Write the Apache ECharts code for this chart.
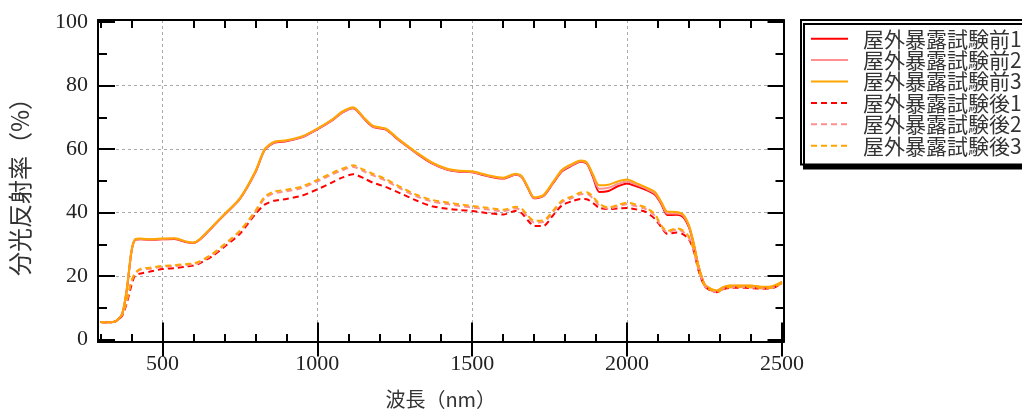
<!DOCTYPE html>
<html><head><meta charset="utf-8">
<script src="https://cdn.jsdelivr.net/npm/echarts@6/dist/echarts.min.js"></script>
<style>html,body{margin:0;padding:0;background:#fff;overflow:hidden}#c{width:1062px;height:414px}</style>
</head><body><div id="c"></div>
<script>
const wavelength = [300,325,350,370,385,400,412,430,460,500,540,580,600,620,660,700,750,800,830,860,900,950,1000,1050,1080,1116,1150,1180,1220,1270,1320,1370,1420,1460,1500,1550,1600,1640,1660,1680,1700,1730,1760,1790,1820,1850,1870,1890,1910,1940,1970,2000,2030,2060,2090,2110,2130,2160,2180,2200,2215,2230,2250,2270,2290,2310,2330,2360,2400,2440,2470,2500];
const before1 = [5.5,5.4,5.8,8,15.6, 27.6,31.4,31.6,31.4,31.6, 31.7,30.6,30.4,31.4,35.3, 39.3,44.3,52.7,59.7,62.0, 62.5,63.7,66.2,69.2,71.5, 72.9,69.7,67.0,66.2,62.3, 58.7,55.5,53.5,52.9,52.7, 51.5,50.7,51.9,51.2,47.7, 44.5,45.2,49.1,53.0,54.7, 56.0,55.4,51.2,46.5,46.8, 48.3,49.2,48.3,47.2,45.6, 42.8,39.2,39.3,38.7,35.3, 30.0,23.2,17.3,15.8,15.2, 16.3,16.8,16.8,16.8,16.4, 16.6,18.0];
const before2 = [5.5,5.4,5.8,8,15.8, 27.8,31.5,31.7,31.5,31.7, 31.8,30.7,30.5,31.5,35.4, 39.4,44.4,52.8,59.8,62.1, 62.6,63.8,66.3,69.3,71.6, 73.0,69.8,67.1,66.3,62.4, 58.8,55.6,53.6,53.0,52.8, 51.6,50.8,52.0,51.3,47.8, 44.6,45.3,49.3,53.2,54.9, 56.2,55.6,51.6,47.5,47.8, 49.0,49.8,48.8,47.6,46.0, 43.1,39.7,39.7,39.1,35.6, 30.2,23.3,17.4,15.9,15.3, 16.4,16.9,16.9,16.9,16.5, 16.7,18.1];
const before3 = [5.5,5.4,5.8,8,16, 28,31.6,31.8,31.6,31.8, 31.9,30.8,30.6,31.6,35.5, 39.5,44.5,53,60,62.3, 62.8,64,66.5,69.5,71.8, 73.2,70,67.3,66.5,62.6, 59,55.8,53.8,53.2,53, 51.8,51,52.2,51.5,48, 44.8,45.5,49.5,53.5,55.2, 56.4,55.8,52,48.6,48.8, 49.8,50.4,49.3,48,46.5, 43.5,40.3,40.2,39.5,36, 30.5,23.5,17.5,16,15.4, 16.5,17,17,17,16.6, 16.8,18.2];
const after1 = [5.5,5.4,5.8,7.5,11.5, 17,20.3,20.8,21.4,22.2, 22.5,23,23.3,24,26.2, 29.2,33.3,39.5,42.5,43.7, 44.3,45.3,47.3,49.6,51, 52.1,50.8,49.4,48.1,46, 43.8,42,41.2,40.8,40.5, 39.8,39.4,40.5,39.8,37.5, 35.8,35.8,39,42.3,43.5, 44.3,44.2,43,41.5,41.1, 41.3,41.4,41,40.2,38, 35.5,33.3,33.7,33.2,31.5, 28,22,16.8,15.4,14.9, 15.8,16.2,16.3,16.2,16, 16.2,17.6];
const after2 = [5.5,5.4,5.8,7.8,12.2, 18.2,20.8,22.0,22.3,22.9, 23.1,23.5,23.7,24.3,26.6, 29.7,34.0,40.1,44.5,46.1, 46.7,47.7,49.8,52.1,53.3, 54.4,53.0,51.7,50.1,47.5, 45.1,43.5,42.7,42.1,41.6, 41.0,40.4,41.3,40.7,38.5, 36.9,37.0,40.0,43.3,44.5, 45.8,45.9,44.5,42.3,41.2, 42.0,42.6,42.0,41.1,39.0, 35.6,33.8,34.6,34.0,32.0, 28.2,22.3,16.9,15.5,14.9, 15.9,16.4,16.5,16.4,16.1, 16.3,17.7];
const after3 = [5.5,5.4,5.8,8,12.5, 18.5,21,22.3,22.6,23.2, 23.4,23.8,24,24.6,26.9, 30,34.3,40.5,45,46.6, 47.2,48.2,50.3,52.6,53.8, 54.9,53.5,52.2,50.6,48, 45.6,44,43.2,42.6,42.1, 41.5,40.9,41.8,41.2,39, 37.4,37.5,40.5,43.8,45, 46.3,46.4,45,42.8,41.6, 42.4,43.1,42.5,41.6,39.5, 36,34.2,35,34.4,32.4, 28.5,22.5,17,15.6,15, 16,16.5,16.6,16.5,16.2, 16.4,17.8];
const seriesNames = ['屋外暴露試験前1','屋外暴露試験前2','屋外暴露試験前3','屋外暴露試験後1','屋外暴露試験後2','屋外暴露試験後3'];
const xMajorTicks = [500,1000,1500,2000,2500];
const xMinorTicks = [300,400,600,700,800,900,1100,1200,1300,1400,1600,1700,1800,1900,2100,2200,2300,2400];
const xGridValues = [500,1000,1500,2000];
const yMajorTicks = [0,20,40,60,80,100];
const yMinorTicks = [10,30,50,70,90];
const yGridValues = [20,40,60,80];
const xTitle = '波長（nm）';
const yTitle = '分光反射率（%）';

const XMIN = 292, XMAX = 2505, YMIN = -0.8, YMAX = 100.7;
const colors = ['#ff0000','#ff9090','#ffa500','#ff0000','#ff9090','#ffa500'];
const valuesList = [before1,before2,before3,after1,after2,after3];
const serif = 'Liberation Serif';
const cjk = 'Noto Sans CJK JP';
const plain = v => String(v);

function xAx(pos, ticks, len, opts) {
  return Object.assign({
    type:'value', position: pos, min: XMIN, max: XMAX, gridIndex:0,
    axisLine:{show:false}, axisLabel:{show:false},
    axisTick:{show:true, inside:true, length:len, customValues:ticks, lineStyle:{color:'#000', width:2}},
    splitLine:{show:false}
  }, opts||{});
}
function yAx(pos, ticks, len, opts) {
  return Object.assign({
    type:'value', position: pos, min: YMIN, max: YMAX, gridIndex:0,
    axisLine:{show:false}, axisLabel:{show:false},
    axisTick:{show:true, inside:true, length:len, customValues:ticks, lineStyle:{color:'#000', width:2}},
    splitLine:{show:false}
  }, opts||{});
}

const xAxes = [
  xAx('bottom', xMinorTicks, 8, {axisLine:{show:true, onZero:false, lineStyle:{color:'#000', width:2}},
     name:xTitle, nameLocation:'middle', nameGap:47, nameTextStyle:{fontFamily:cjk, fontSize:20, color:'#333'}}),
  xAx('bottom', xMajorTicks, 17, {axisLabel:{show:true, customValues:xMajorTicks, formatter:plain, margin:11, fontFamily:serif, fontSize:22, color:'#222'}}),
  xAx('top', xMinorTicks, 8, {axisLine:{show:true, onZero:false, lineStyle:{color:'#000', width:2}}}),
  xAx('top', xMajorTicks, 17),
  xAx('bottom', xGridValues, 0, {axisTick:{show:false, customValues:xGridValues},
     splitLine:{show:true, lineStyle:{color:'#aaa', type:[3,3], width:1}}})
];
const yAxes = [
  yAx('left', yMinorTicks, 9, {axisLine:{show:true, onZero:false, lineStyle:{color:'#000', width:2}},
     name:yTitle, nameLocation:'middle', nameGap:66, nameRotate:90, nameTextStyle:{fontFamily:cjk, fontSize:24, color:'#333'}}),
  yAx('left', yMajorTicks, 17, {axisLabel:{show:true, customValues:yMajorTicks, formatter:plain, margin:10, fontFamily:serif, fontSize:22, color:'#222'}}),
  yAx('right', yMinorTicks, 8, {axisLine:{show:true, onZero:false, lineStyle:{color:'#000', width:2}}}),
  yAx('right', yMajorTicks, 16),
  yAx('left', yGridValues, 0, {axisTick:{show:false, customValues:yGridValues},
     splitLine:{show:true, lineStyle:{color:'#aaa', type:[3,3], width:1}}})
];

const series = valuesList.map((vals, i) => ({
  name: seriesNames[i], type:'line', xAxisIndex:0, yAxisIndex:0,
  data: wavelength.map((w, j) => [w, vals[j]]),
  showSymbol:false, symbol:'none', smooth:0.25, animation:false,
  lineStyle:{color:colors[i], width:2, type: i < 3 ? 'solid' : [6,4]},
  itemStyle:{color:colors[i]}, z: 3
}));

const chart = echarts.init(document.getElementById('c'), null, {renderer:'canvas'});
chart.setOption({
  animation:false,
  backgroundColor:'#fff',
  grid:{left:98, top:20, right:278.5, bottom:70.7, containLabel:false},
  xAxis: xAxes,
  yAxis: yAxes,
  legend:{
    orient:'vertical', left:801, top:20,
    data: seriesNames,
    itemWidth:37, itemHeight:14, itemGap:0,
    padding:[8,30,8,9],
    borderColor:'#000', borderWidth:2, backgroundColor:'#fff',
    shadowColor:'#000', shadowBlur:0, shadowOffsetX:3, shadowOffsetY:4,
    itemStyle:{opacity:0},
    textStyle:{fontFamily:cjk, fontSize:21, lineHeight:21.4, color:'#333', padding:[0,0,0,10]}
  },
  series: series
});
</script></body></html>
